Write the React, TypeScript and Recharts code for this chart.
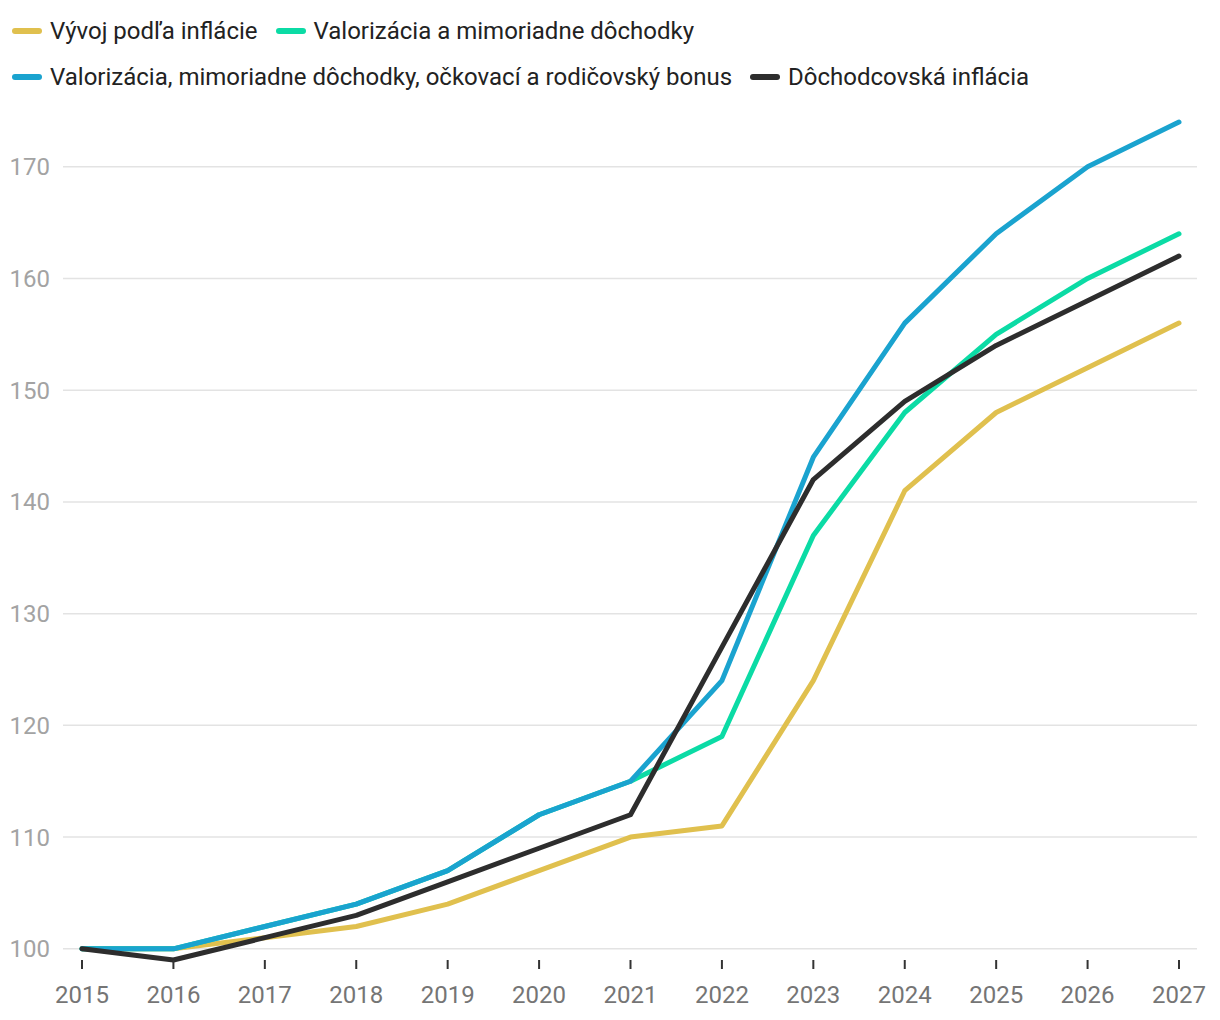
import React from 'react';
import { LineChart, Line, XAxis, YAxis, CartesianGrid, Legend } from 'recharts';

const years = ['2015', '2016', '2017', '2018', '2019', '2020', '2021', '2022', '2023', '2024', '2025', '2026', '2027'];
const inflacia = [100, 100, 101, 102, 104, 107, 110, 111, 124, 141, 148, 152, 156];
const valorizacia = [100, 100, 102, 104, 107, 112, 115, 119, 137, 148, 155, 160, 164];
const bonusy = [100, 100, 102, 104, 107, 112, 115, 124, 144, 156, 164, 170, 174];
const dochodcovska = [100, 99, 101, 103, 106, 109, 112, 127, 142, 149, 154, 158, 162];
const yTicks = [100, 110, 120, 130, 140, 150, 160, 170];

const series = [
  { key: 'inflacia', name: 'Vývoj podľa inflácie', color: '#e0c04e' },
  { key: 'valorizacia', name: 'Valorizácia a mimoriadne dôchodky', color: '#0bdba5' },
  { key: 'bonusy', name: 'Valorizácia, mimoriadne dôchodky, očkovací a rodičovský bonus', color: '#1aa3cf' },
  { key: 'dochodcovska', name: 'Dôchodcovská inflácia', color: '#2d2d2d' },
];

const data = years.map((year, i) => ({
  year,
  inflacia: inflacia[i],
  valorizacia: valorizacia[i],
  bonusy: bonusy[i],
  dochodcovska: dochodcovska[i],
}));

const FONT = 'Roboto, "Noto Sans", sans-serif';

const LegendContent = () => (
  <div style={{ height: 114, display: 'flex', flexWrap: 'wrap', alignContent: 'flex-start', paddingLeft: 4, fontFamily: FONT, fontSize: 24, color: '#222' }}>
    {series.map((s) => (
      <div key={s.key} style={{ display: 'flex', alignItems: 'center', height: 46, marginRight: 18 }}>
        <span style={{ display: 'inline-block', width: 30, height: 6, borderRadius: 3, background: s.color, marginRight: 8 }} />
        <span>{s.name}</span>
      </div>
    ))}
  </div>
);

const XTick = ({ x, y, payload }: any) => (
  <g>
    <line x1={x} x2={x} y1={y - 27} y2={y - 18} stroke="#333" strokeWidth={2} />
    <text x={x} y={y - 1} dy="0.71em" textAnchor="middle" fill="#757575" fontSize={24} fontFamily={FONT}>
      {payload.value}
    </text>
  </g>
);

export default function App() {
  return (
    <LineChart width={1204} height={1004} data={data} margin={{ top: 0, right: 15, bottom: 0, left: 0 }}>
      <Legend verticalAlign="top" align="left" content={<LegendContent />} />
      <CartesianGrid vertical={false} horizontalValues={yTicks} stroke="#e3e3e3" strokeWidth={1.5} />
      <XAxis
        dataKey="year"
        axisLine={false}
        tickLine={false}
        tickSize={9}
        tickMargin={18}
        height={52}
        padding={{ left: 19, right: 18 }}
        interval={0}
        tick={<XTick />}
      />
      <YAxis
        domain={[99, 174]}
        ticks={yTicks}
        axisLine={false}
        tickLine={false}
        tickSize={0}
        tickMargin={13}
        width={55}
        tick={{ fill: '#a3a3a3', fontSize: 24, fontFamily: FONT }}
      />
      {series.map((s) => (
        <Line
          key={s.key}
          type="linear"
          dataKey={s.key}
          name={s.name}
          stroke={s.color}
          strokeWidth={5}
          strokeLinecap="round"
          strokeLinejoin="round"
          dot={false}
          activeDot={false}
          isAnimationActive={false}
        />
      ))}
    </LineChart>
  );
}
